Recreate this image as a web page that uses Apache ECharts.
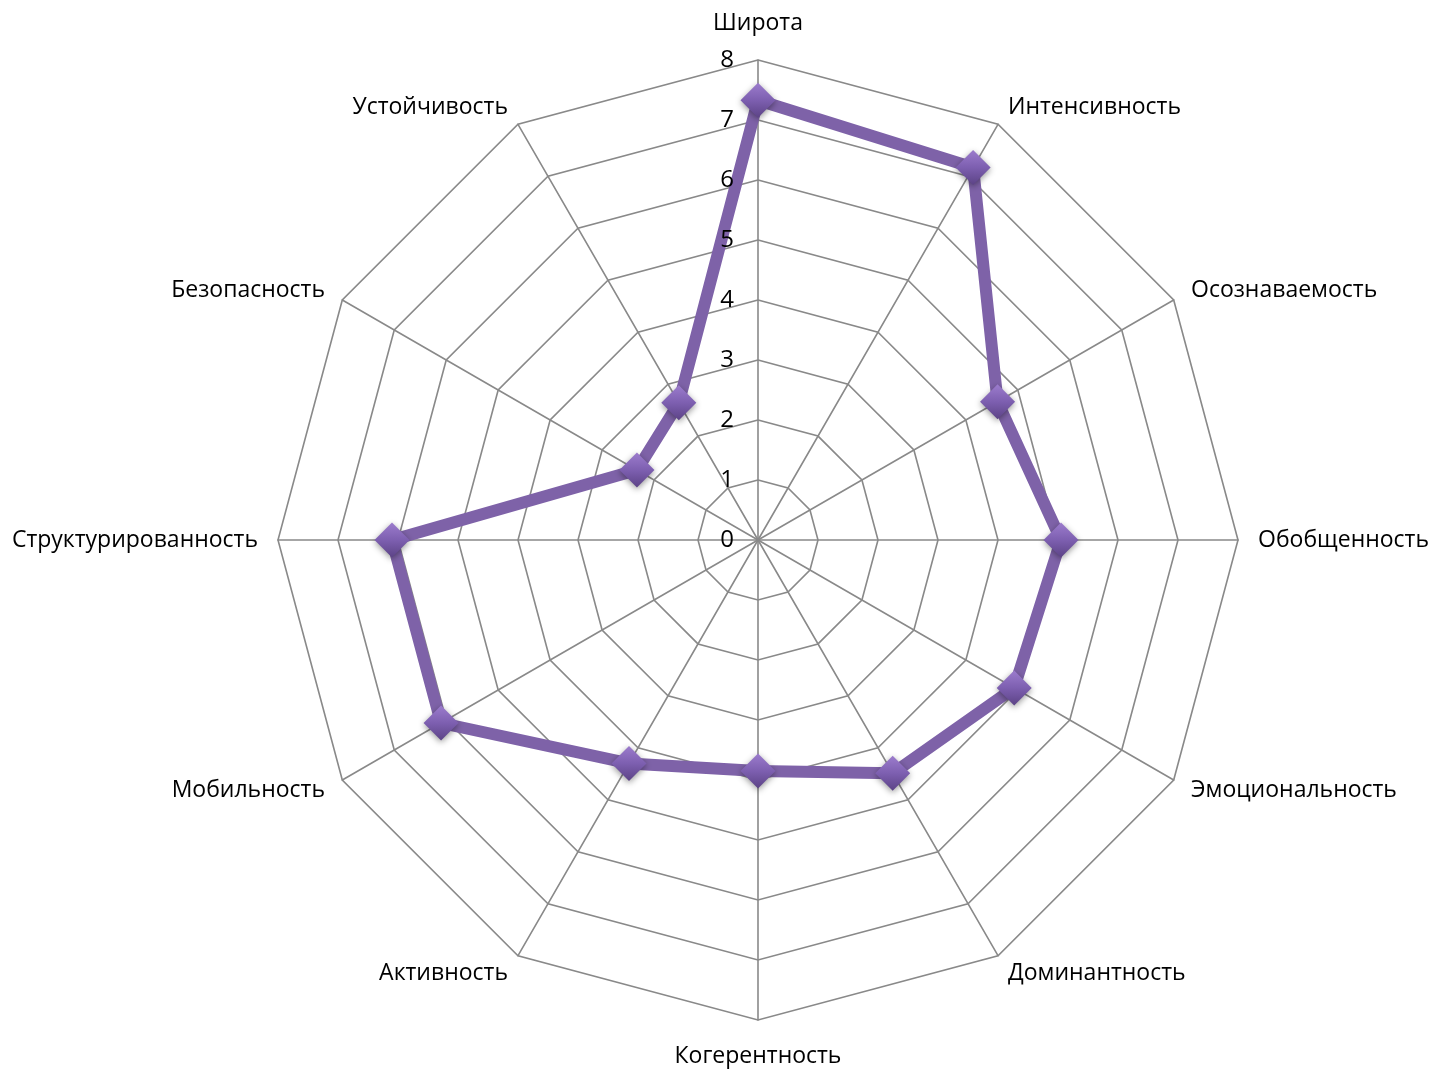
<!DOCTYPE html>
<html><head><meta charset="utf-8">
<script src="https://cdn.jsdelivr.net/npm/echarts@6/dist/echarts.min.js"></script>
<style>html,body{margin:0;padding:0;background:#fff}#c{width:1434px;height:1072px}</style>
</head><body><div id="c"></div>
<script>
// Clockwise from top
const categories = ['Широта','Интенсивность','Осознаваемость','Обобщенность','Эмоциональность','Доминантность','Когерентность','Активность','Мобильность','Структурированность','Безопасность','Устойчивость'];
const values = [7.33, 7.17, 4.61, 5.05, 4.93, 4.49, 3.85, 4.3, 6.1, 6.1, 2.33, 2.64];
const axisMax = 8;

// ECharts radar runs counter-clockwise; reorder so the picture runs clockwise
const order = [0].concat(categories.map((_, i) => i).slice(1).reverse());
const indicator = order.map(i => {
  const o = { name: categories[i], max: axisMax, min: 0 };
  if (i === 0 || i === 6) o.nameGap = 25;
  return o;
});
// Overlay radar used only for the tick labels on the first axis (drawn above the series)
const labelIndicator = order.map((i, k) => {
  const o = { name: '', max: axisMax, min: 0 };
  if (k === 0) o.axisLabel = { show: true };
  return o;
});
const data = order.map(i => values[i]);

const FONT = '"Open Sans", Lato, sans-serif';
const base = {
  center: [758, 540],
  radius: 480,
  startAngle: 90,
  splitNumber: 8,
  shape: 'polygon'
};
const chart = echarts.init(document.getElementById('c'));
chart.setOption({
  animation: false,
  radar: [
    Object.assign({}, base, {
      indicator: indicator,
      axisName: { color: '#000', fontSize: 23, fontFamily: FONT },
      nameGap: 20,
      splitArea: { show: false },
      splitLine: { lineStyle: { color: '#898989', width: 1.6 } },
      axisLine: { lineStyle: { color: '#898989', width: 1.6 } },
      axisTick: { show: false },
      axisLabel: { show: false }
    }),
    Object.assign({}, base, {
      z: 10,
      indicator: labelIndicator,
      axisName: { show: false },
      splitArea: { show: false },
      splitLine: { show: false },
      axisLine: { show: false },
      axisTick: { show: false },
      axisLabel: { show: false, color: '#000', fontSize: 24, fontFamily: FONT, margin: 24 }
    })
  ],
  series: [{
    type: 'radar',
    radarIndex: 0,
    symbol: 'diamond',
    symbolSize: 35,
    lineStyle: { color: '#7E62A8', width: 12 },
    itemStyle: {
      color: new echarts.graphic.LinearGradient(0, 0, 0, 1, [
        { offset: 0, color: '#9C7CCD' },
        { offset: 0.5, color: '#7D5FB0' },
        { offset: 1, color: '#5C4386' }
      ]),
      shadowBlur: 6, shadowColor: 'rgba(0,0,0,0.4)', shadowOffsetY: 2
    },
    data: [{ value: data }]
  }]
});
</script></body></html>
